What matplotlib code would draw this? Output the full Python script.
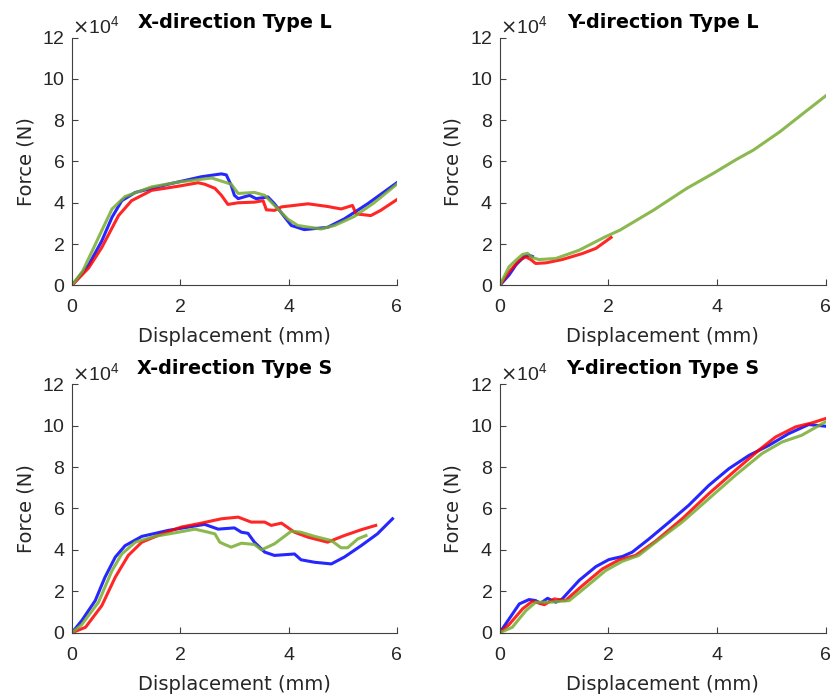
import numpy as np
import matplotlib.pyplot as plt
from matplotlib.ticker import ScalarFormatter

plt.rcParams['font.family'] = ['Liberation Sans', 'DejaVu Sans']

# force values, in units of 1e4 N, displacement in mm
# X-direction Type L
xl_blue_x = [0, 0.31, 0.55, 0.74, 0.92, 1.17, 1.78, 2.39, 2.76, 2.85, 2.94, 3.0, 3.07, 3.28, 3.4, 3.62, 3.74, 3.93, 4.05, 4.29, 4.72, 5.03, 5.46, 6.0]
xl_blue_y = [0, 1.0, 2.15, 3.3, 4.1, 4.5, 4.9, 5.26, 5.4, 5.35, 4.85, 4.36, 4.2, 4.36, 4.2, 4.28, 3.95, 3.3, 2.9, 2.7, 2.81, 3.22, 3.95, 4.97]
xl_red_x = [0, 0.31, 0.55, 0.86, 1.1, 1.47, 1.96, 2.33, 2.45, 2.64, 2.76, 2.88, 3.07, 3.37, 3.53, 3.59, 3.74, 3.87, 4.36, 4.72, 4.97, 5.18, 5.25, 5.52, 5.7, 6.0]
xl_red_y = [0, 0.85, 1.83, 3.38, 4.1, 4.6, 4.8, 4.97, 4.9, 4.7, 4.36, 3.92, 4.0, 4.03, 4.1, 3.66, 3.63, 3.8, 3.95, 3.82, 3.7, 3.87, 3.46, 3.38, 3.63, 4.15]
xl_green_x = [0, 0.2, 0.55, 0.74, 0.98, 1.47, 1.96, 2.58, 2.82, 2.94, 3.07, 3.37, 3.56, 3.74, 3.99, 4.17, 4.6, 4.85, 5.21, 5.58, 6.0]
xl_green_y = [0, 0.7, 2.65, 3.7, 4.3, 4.77, 5.0, 5.2, 5.0, 4.9, 4.45, 4.5, 4.36, 3.87, 3.2, 2.9, 2.73, 2.9, 3.33, 4.0, 4.9]

# Y-direction Type L
yl_blue_x = [0, 0.17, 0.3, 0.45, 0.55, 0.6]
yl_blue_y = [0, 0.5, 1.0, 1.4, 1.45, 1.4]
yl_red_x = [0, 0.17, 0.36, 0.48, 0.57, 0.66, 0.85, 1.15, 1.52, 1.77, 2.05]
yl_red_y = [0, 0.65, 1.22, 1.38, 1.25, 1.06, 1.09, 1.25, 1.54, 1.79, 2.32]
yl_green_x = [0, 0.17, 0.29, 0.42, 0.51, 0.6, 0.72, 1.03, 1.46, 1.95, 2.21, 2.83, 3.44, 3.93, 4.36, 4.67, 5.16, 5.59, 6.0]
yl_green_y = [0, 0.9, 1.2, 1.5, 1.55, 1.35, 1.25, 1.3, 1.7, 2.36, 2.67, 3.64, 4.69, 5.42, 6.1, 6.55, 7.44, 8.33, 9.17]

# X-direction Type S
xs_blue_x = [0, 0.18, 0.43, 0.61, 0.8, 0.98, 1.29, 1.78, 2.15, 2.45, 2.7, 3.0, 3.13, 3.25, 3.37, 3.56, 3.74, 4.11, 4.23, 4.48, 4.79, 5.03, 5.34, 5.64, 5.92]
xs_blue_y = [0, 0.58, 1.55, 2.68, 3.65, 4.2, 4.65, 4.94, 5.1, 5.23, 5.0, 5.06, 4.85, 4.8, 4.37, 3.89, 3.73, 3.8, 3.52, 3.4, 3.32, 3.65, 4.2, 4.77, 5.5]
xs_red_x = [0, 0.25, 0.55, 0.8, 1.04, 1.29, 1.66, 2.02, 2.39, 2.76, 3.07, 3.31, 3.56, 3.68, 3.87, 4.11, 4.36, 4.72, 5.03, 5.34, 5.61]
xs_red_y = [0, 0.26, 1.3, 2.68, 3.73, 4.37, 4.77, 5.1, 5.29, 5.5, 5.58, 5.34, 5.34, 5.18, 5.29, 4.85, 4.61, 4.37, 4.69, 4.97, 5.18]
xs_green_x = [0, 0.18, 0.49, 0.74, 0.92, 1.17, 1.53, 1.96, 2.27, 2.52, 2.64, 2.73, 2.82, 2.94, 3.13, 3.37, 3.5, 3.74, 4.05, 4.23, 4.48, 4.79, 4.97, 5.09, 5.28, 5.43]
xs_green_y = [0, 0.39, 1.47, 3.0, 3.8, 4.37, 4.65, 4.85, 5.0, 4.85, 4.77, 4.37, 4.26, 4.13, 4.32, 4.26, 4.0, 4.29, 4.9, 4.85, 4.65, 4.45, 4.1, 4.1, 4.53, 4.69]

# Y-direction Type S
ys_blue_x = [0, 0.17, 0.36, 0.54, 0.66, 0.75, 0.88, 1.03, 1.15, 1.46, 1.77, 2.01, 2.26, 2.44, 2.75, 3.12, 3.48, 3.85, 4.22, 4.59, 4.96, 5.32, 5.69, 6.0]
ys_blue_y = [0, 0.66, 1.39, 1.6, 1.55, 1.42, 1.66, 1.47, 1.63, 2.52, 3.19, 3.53, 3.68, 3.89, 4.53, 5.34, 6.15, 7.11, 7.92, 8.56, 9.05, 9.61, 10.05, 9.97]
ys_red_x = [0, 0.17, 0.42, 0.6, 0.82, 1.0, 1.21, 1.52, 1.89, 2.2, 2.5, 2.87, 3.36, 3.85, 4.34, 4.77, 5.08, 5.45, 5.75, 6.0]
ys_red_y = [0, 0.39, 1.15, 1.52, 1.35, 1.63, 1.55, 2.27, 3.08, 3.52, 3.73, 4.42, 5.5, 6.71, 7.84, 8.81, 9.45, 9.94, 10.13, 10.34]
ys_green_x = [0, 0.23, 0.48, 0.66, 0.91, 1.28, 1.58, 1.95, 2.26, 2.56, 2.87, 3.36, 3.85, 4.34, 4.83, 5.2, 5.56, 6.0]
ys_green_y = [0, 0.26, 1.06, 1.47, 1.47, 1.55, 2.19, 3.0, 3.45, 3.73, 4.37, 5.34, 6.47, 7.6, 8.65, 9.21, 9.53, 10.18]

titles = ['X-direction Type L', 'Y-direction Type L', 'X-direction Type S', 'Y-direction Type S']
panels = [
    [(xl_blue_x, xl_blue_y), (xl_red_x, xl_red_y), (xl_green_x, xl_green_y)],
    [(yl_blue_x, yl_blue_y), (yl_red_x, yl_red_y), (yl_green_x, yl_green_y)],
    [(xs_blue_x, xs_blue_y), (xs_red_x, xs_red_y), (xs_green_x, xs_green_y)],
    [(ys_blue_x, ys_blue_y), (ys_red_x, ys_red_y), (ys_green_x, ys_green_y)],
]
colors = ['#0000ff', '#ff0000', '#77ac30']

fig = plt.figure(figsize=(8.33, 6.96), dpi=100)
rects = [[0.0864, 0.590, 0.390, 0.356],
         [0.600, 0.590, 0.391, 0.356],
         [0.0864, 0.091, 0.390, 0.357],
         [0.600, 0.091, 0.391, 0.357]]
axc = '#404040'
txt = '#262626'

for rect, title, series in zip(rects, titles, panels):
    ax = fig.add_axes(rect)
    for (x, y), c in zip(series, colors):
        ax.plot(x, np.array(y) * 1e4, color=c, lw=2.2, alpha=0.85)
    ax.set_xlim(0, 6)
    ax.set_ylim(0, 12e4)
    ax.set_xticks([0, 2, 4, 6])
    ax.set_yticks(np.arange(0, 12.1e4, 2e4))
    fmt = ScalarFormatter(useMathText=True)
    fmt.set_powerlimits((4, 4))
    ax.yaxis.set_major_formatter(fmt)
    ax.yaxis.get_offset_text().set_fontsize(14)
    ax.yaxis.get_offset_text().set_color(txt)
    for s in ['top', 'right']:
        ax.spines[s].set_visible(False)
    for s in ['left', 'bottom']:
        ax.spines[s].set_color(axc)
        ax.spines[s].set_linewidth(0.8)
    ax.tick_params(direction='in', length=4, width=0.8, color=axc,
                   labelsize=14, labelcolor=txt)
    ax.tick_params(axis='x', pad=10)
    ax.tick_params(axis='y', pad=5)
    ax.set_xlabel('Displacement (mm)', fontsize=14, color=txt,
                  family='DejaVu Sans', labelpad=8)
    ax.set_ylabel('Force (N)', fontsize=14, color=txt,
                  family='DejaVu Sans', labelpad=5)
    ax.set_title(title, fontsize=13.8, fontweight='bold',
                 family='DejaVu Sans', pad=7)

fig.savefig('out.png', dpi=100)
